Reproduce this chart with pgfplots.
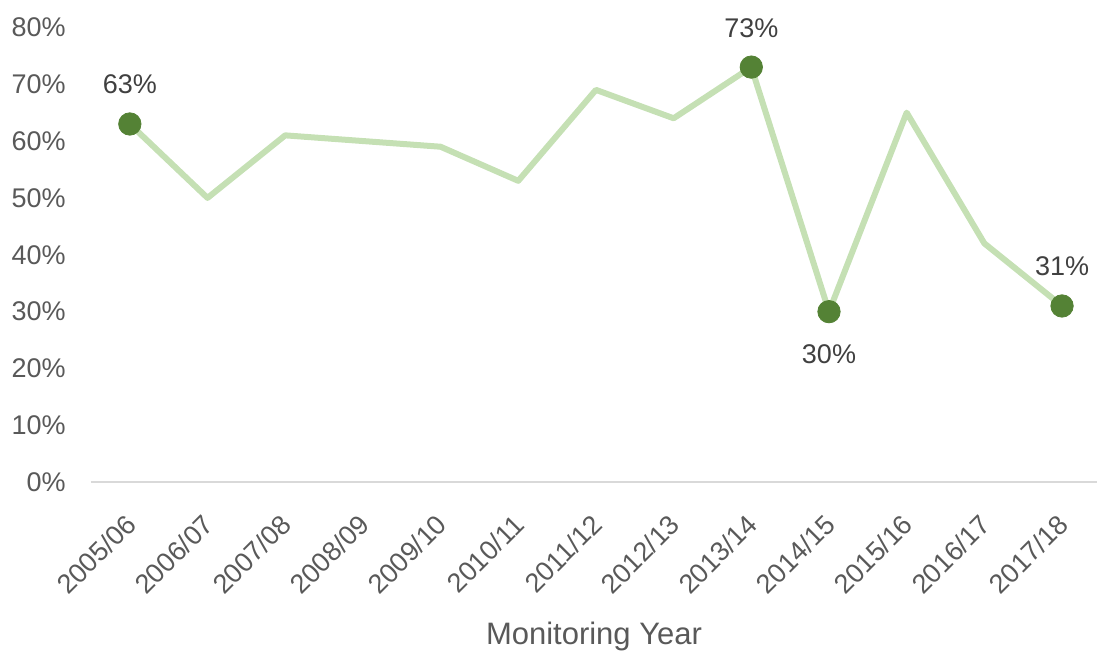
\documentclass[border=0pt]{standalone}
\usepackage{pgfplots}
\pgfplotsset{compat=1.18}
\usepackage{fontspec}
\setmainfont{Liberation Sans}
\definecolor{lineg}{HTML}{C5E0B4}
\definecolor{dotg}{HTML}{548235}
\definecolor{tickc}{HTML}{595959}
\definecolor{labc}{HTML}{404040}
\definecolor{axc}{HTML}{D9D9D9}
\newcommand{\cf}{\fontsize{13.5}{16}\selectfont}
\newcommand{\tf}{\fontsize{15.5}{18}\selectfont}
\begin{document}
\begin{tikzpicture}
\begin{axis}[
  scale only axis, width=503pt, height=227.5pt,
  xmin=-0.5, xmax=12.45, ymin=0, ymax=80,
  /pgf/number format/assume math mode=true,
  axis x line*=bottom, axis y line*=left,
  x axis line style={draw=axc, line width=1pt, -},
  y axis line style={draw=none},
  major tick length=0pt,
  xtick={0,...,12},
  xticklabels={2005/06,2006/07,2007/08,2008/09,2009/10,2010/11,2011/12,2012/13,2013/14,2014/15,2015/16,2016/17,2017/18},
  ytick={0,10,...,80},
  yticklabels={0\%,10\%,20\%,30\%,40\%,50\%,60\%,70\%,80\%},
  yticklabel style={font=\cf, text=tickc, anchor=east, inner sep=0pt, xshift=-12.5pt},
  xticklabel style={font=\cf, text=tickc, xshift=-3pt, yshift=-15pt, rotate=45, anchor=north east, inner sep=0pt},
  xlabel={Monitoring Year},
  xlabel style={at={(rel axis cs:0.5,0)}, anchor=base, yshift=-81.25pt, inner sep=0pt, font=\tf, text=tickc},
  clip=false,
]
\addplot[lineg, line width=3pt, line join=round, line cap=round] coordinates {
  (0,63)(1,50)(2,61)(3,60)(4,59)(5,53)(6,69)(7,64)(8,73)(9,30)(10,65)(11,42)(12,31)};
\addplot[only marks, mark=*, mark size=5.6pt, mark options={draw=dotg, fill=dotg},
  nodes near coords={\pgfmathprintnumber{\pgfplotspointmeta}\%},
  every node near coord/.style={font=\cf, text=labc, anchor=base, inner sep=0pt, yshift=15pt}]
  coordinates {(0,63)(8,73)(12,31)};
\addplot[only marks, mark=*, mark size=5.6pt, mark options={draw=dotg, fill=dotg},
  nodes near coords={\pgfmathprintnumber{\pgfplotspointmeta}\%},
  every node near coord/.style={font=\cf, text=labc, anchor=base, inner sep=0pt, yshift=-26pt}]
  coordinates {(9,30)};
\end{axis}
\pgfresetboundingbox
\path[use as bounding box] ([xshift=-45.5pt, yshift=-85.25pt]current axis.south west) rectangle ([yshift=13.65pt]current axis.north east);
\end{tikzpicture}
\end{document}
